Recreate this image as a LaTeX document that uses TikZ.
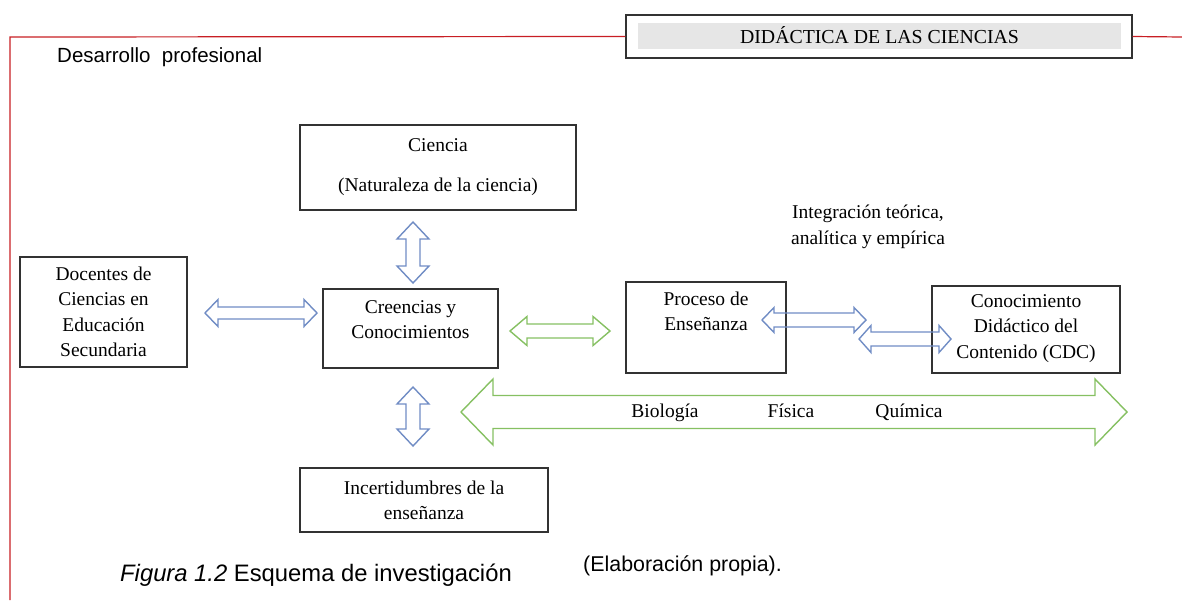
\documentclass[tikz,border=0pt]{standalone}
\usepackage{fontspec}
\setmainfont{Liberation Serif}
\newfontfamily\arialfont{Liberation Sans}
\usetikzlibrary{positioning,calc}
\definecolor{arrowblue}{RGB}{112,140,196}
\definecolor{arrowgreen}{RGB}{134,192,98}
\definecolor{marginred}{RGB}{200,30,36}
\definecolor{bargray}{RGB}{230,230,230}
\definecolor{boxgray}{RGB}{50,50,50}
\tikzset{
  box/.style={draw=boxgray, line width=1.3pt, inner sep=0pt},
  boxtext/.style={align=center, inner sep=0pt, font=\fontsize{19.5}{25.5}\selectfont},
  bluearrow/.style={draw=arrowblue, line width=1.4pt, line join=miter},
  greenarrow/.style={draw=arrowgreen, line width=1.4pt, line join=miter},
  redline/.style={draw=marginred, line width=1.2pt}
}
% double arrow lying flat: style, left tip, right tip, head half, shaft half, head length
\newcommand\hdarrow[6]{%
  \draw[#1] (#2) -- ++(#6,-#4) -- ++(0,#4-#5) -- ($(#3)+(-#6,-#5)$) -- ++(0,#5-#4)
    -- (#3) -- ++(-#6,#4) -- ++(0,#5-#4) -- ($(#2)+(#6,#5)$) -- ++(0,#4-#5) -- cycle;}
% double arrow standing up: style, top tip, bottom tip, head half, shaft half, head length
\newcommand\vdarrow[6]{%
  \draw[#1] (#2) -- ++(#4,#6) -- ++(#5-#4,0) -- ($(#3)+(#5,-#6)$) -- ++(#4-#5,0)
    -- (#3) -- ++(-#4,-#6) -- ++(#4-#5,0) -- ($(#2)+(-#5,#6)$) -- ++(#5-#4,0) -- cycle;}
\begin{document}
\begin{tikzpicture}[x=1pt,y=-1pt]
    \useasboundingbox (0,0) rectangle (1182,600);

    % heading and page margin
    \node[box, minimum width=506, minimum height=43] (header) at (879,36.5) {};
    \node[fill=bargray, minimum width=483, minimum height=26, inner sep=0pt,
      font=\fontsize{19.8}{22}\selectfont] (headertext) at (879.5,35.5) {DIDÁCTICA DE LAS CIENCIAS};
    \draw[redline] (10,600) -- (10,37) -- (header.west);
    \draw[redline] (header.east) -- (1182,37);
    \node[anchor=west, inner sep=0pt, font=\arialfont\fontsize{20.5}{24}\selectfont] (desarrollo)
      at (57,57) {Desarrollo\ \ profesional};

    % boxes
    \node[box, minimum width=276, minimum height=85] (ciencia) at (438,167.5) {};
    \node[boxtext, below=14pt of ciencia.north] {Ciencia\\[14.5pt](Naturaleza de la ciencia)};
    \node[box, minimum width=167, minimum height=110] (docentes) at (103.5,312) {};
    \node[boxtext, below=10pt of docentes.north] {Docentes de\\Ciencias en\\Educación\\Secundaria};
    \node[box, minimum width=175, minimum height=79] (creencias) at (410.5,328.5) {};
    \node[boxtext, below=12pt of creencias.north] {Creencias y\\Conocimientos};
    \node[box, minimum width=160, minimum height=91] (proceso) at (706,327.5) {};
    \node[boxtext, below=10pt of proceso.north] {Proceso de\\Enseñanza};
    \node[box, minimum width=188, minimum height=87] (cdc) at (1026,329.5) {};
    \node[boxtext, below=9pt of cdc.north] {Conocimiento\\Didáctico del\\Contenido (CDC)};
    \node[box, minimum width=248, minimum height=64] (incertidumbres) at (424,500) {};
    \node[boxtext, below=13pt of incertidumbres.north] {Incertidumbres de la\\enseñanza};

    \node[boxtext] (integracion) at (868,227) {Integración teórica,\\analítica y empírica};

    % arrows
    \coordinate (cienciaA) at (413,222);
    \coordinate (cienciaB) at (413,283);
    \vdarrow{bluearrow}{cienciaA}{cienciaB}{16}{7}{17}
    \coordinate (incertA) at (413,387);
    \coordinate (incertB) at (413,446);
    \vdarrow{bluearrow}{incertA}{incertB}{16}{7}{17}
    \coordinate (docentesA) at (205,313);
    \coordinate (docentesB) at (317,313);
    \hdarrow{bluearrow}{docentesA}{docentesB}{13.5}{6}{13}
    \coordinate (creenciasA) at (510,331);
    \coordinate (creenciasB) at (610,331);
    \hdarrow{greenarrow}{creenciasA}{creenciasB}{14.5}{7}{17}
    \coordinate (procesoA) at (762,320);
    \coordinate (procesoB) at (866,320);
    \hdarrow{bluearrow}{procesoA}{procesoB}{12.5}{7}{12}
    \coordinate (cdcA) at (859,339);
    \coordinate (cdcB) at (951,339);
    \hdarrow{bluearrow}{cdcA}{cdcB}{13.5}{7}{12}
    \coordinate (areasA) at (461,412);
    \coordinate (areasB) at (1127,412);
    \hdarrow{greenarrow}{areasA}{areasB}{33}{16.5}{32}
    \node[boxtext, anchor=base] (biologia) at (665,417) {Biología};
    \node[boxtext, anchor=base] (fisica) at (791,417) {Física};
    \node[boxtext, anchor=base] (quimica) at (909,417) {Química};

    % caption
    \node[anchor=west, inner sep=0pt, font=\arialfont\fontsize{23.8}{28}\selectfont] (figura)
      at (120,575) {\textit{Figura 1.2} Esquema de investigación};
    \node[anchor=west, inner sep=0pt, font=\arialfont\fontsize{21.4}{25}\selectfont] (elaboracion)
      at (583,566) {(Elaboración propia).};
\end{tikzpicture}
\end{document}
